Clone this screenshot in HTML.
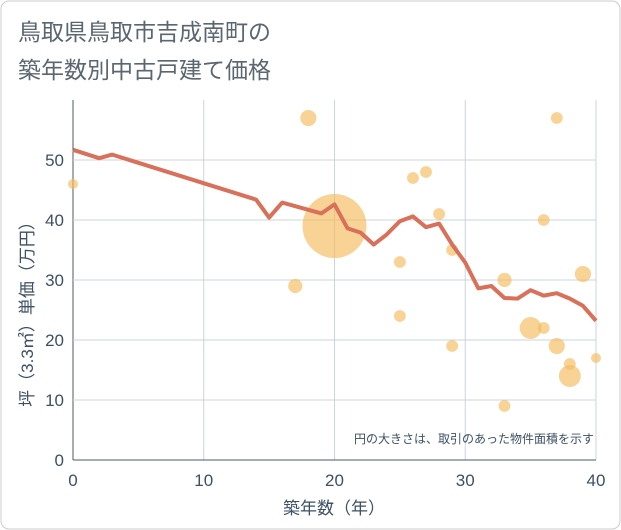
<!DOCTYPE html>
<html><head><meta charset="utf-8"><style>
body{margin:0;background:#fff;}
#wrap{position:relative;width:621px;height:530px;overflow:hidden;}
svg text{font-family:"Liberation Sans","Noto Sans CJK JP",sans-serif;}
</style></head><body>
<div id="wrap">
<svg id="chart" width="621" height="530">
<rect x="1" y="1" width="619" height="528" rx="8" fill="#fff" stroke="#ccc"/>
<text x="18" y="40" font-size="23" fill="#5a6670">鳥取県鳥取市吉成南町の</text>
<text x="18" y="78" font-size="23" fill="#5a6670">築年数別中古戸建て価格</text>
<g id="grid"></g>
<g id="bubbles"></g>
<g id="line"></g>
<g id="axes"></g>
<text x="594" y="443" font-size="12" fill="#3d5066" text-anchor="end">円の大きさは、取引のあった物件面積を示す</text>
<text x="334" y="514" font-size="17" fill="#3d5066" text-anchor="middle">築年数（年）</text>
<text transform="translate(33,310) rotate(-90)" font-size="17" fill="#3d5066" text-anchor="middle">坪（3.3㎡）単価（万円）</text>
</svg></div>
<script>
const xTicks=[0,10,20,30,40];
const yTicks=[0,10,20,30,40,50];
const lineAges=[0,2,3,14,15,16,19,20,21,22,23,24,25,26,27,28,29,30,31,32,33,34,35,36,37,38,39,40];
const lineValues=[51.7,50.3,50.9,43.4,40.4,42.9,41.1,42.6,38.6,37.9,35.9,37.6,39.8,40.6,38.8,39.4,35.9,32.9,28.6,29.0,27.0,26.9,28.3,27.4,27.8,26.9,25.7,23.2];
const bubbleAges=[0,18,17,20,25,25,26,27,28,29,29,33,33,35,36,36,37,37,38,38,39,40];
const bubbleValues=[46,57,29,39,33,24,47,48,41,35,19,30,9,22,40,22,57,19,16,14,31,17];
const bubbleSizes=[1,2.6,2,41,1.4,1.4,1.4,1.4,1.4,1.4,1.4,2,1.4,4.8,1.4,1.4,1.4,2.6,1.4,4.8,2.6,1];
const X=v=>73+v*(523/40);
const Y=v=>460-v*6;
const NS="http://www.w3.org/2000/svg";
function mk(t,a,p){const e=document.createElementNS(NS,t);for(const k in a)e.setAttribute(k,a[k]);p.appendChild(e);return e;}
const g=document.getElementById('grid'),ax=document.getElementById('axes');
xTicks.forEach(t=>{
 const l=mk('line',{x1:X(t),x2:X(t),y1:100,y2:460,stroke:t===0?'#4a5a6a':'#c9d4de','stroke-width':1},g);
 
 
 const tx=mk('text',{x:X(t),y:486,'font-size':17,fill:'#3d5066','text-anchor':'middle'},ax);
 tx.textContent=t;
 
 
});
yTicks.forEach(t=>{
 const l=mk('line',{x1:73,x2:596,y1:Y(t),y2:Y(t),stroke:t===0?'#4a5a6a':'#c9d4de','stroke-width':1},g);
 
 
 const tx=mk('text',{x:64,y:Y(t)+6,'font-size':17,fill:'#3d5066','text-anchor':'end'},ax);
 tx.textContent=t;
 
 
});
const b=document.getElementById('bubbles');
bubbleAges.forEach((a,i)=>{
 const c=mk('circle',{cx:X(a),cy:Y(bubbleValues[i]),r:5*Math.sqrt(bubbleSizes[i]),fill:'#f4bc5c','fill-opacity':0.65},b);
 
 
});
const pts=lineAges.map((a,i)=>X(a)+','+Y(lineValues[i])).join(' ');
const pl=mk('polyline',{points:pts,fill:'none',stroke:'#d9705a','stroke-width':4,'stroke-linejoin':'round'},document.getElementById('line'));


</script>
</body></html>
